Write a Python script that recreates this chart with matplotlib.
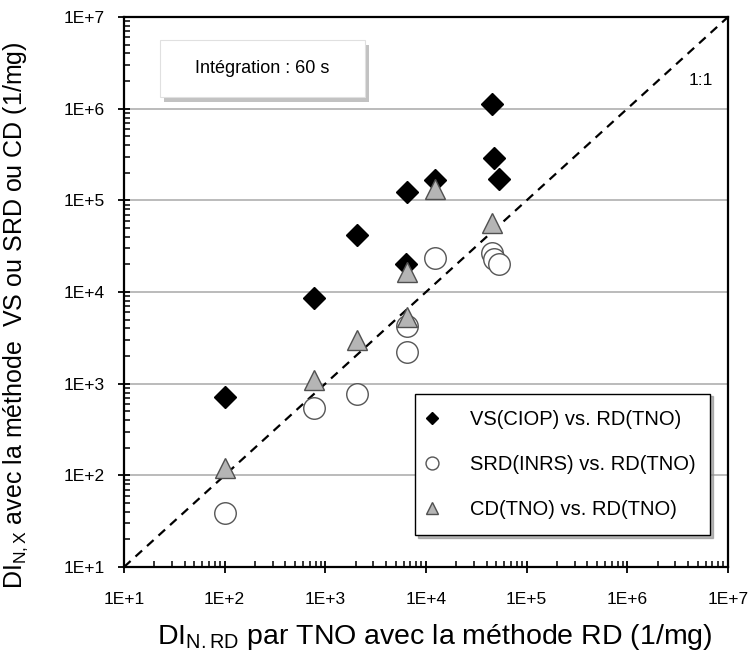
import matplotlib
matplotlib.use("Agg")
import matplotlib.pyplot as plt
from matplotlib.patches import Rectangle
import numpy as np

plt.rcParams['font.family'] = ['Liberation Sans', 'DejaVu Sans']
plt.rcParams['mathtext.fontset'] = 'custom'
plt.rcParams['mathtext.rm'] = 'Liberation Sans'
plt.rcParams['mathtext.it'] = 'Liberation Sans'

# Data (x = DI_N,RD by TNO, y = DI_N,X)
vs_x = [100, 770, 2060, 6460, 12200, 45000, 47200, 53000, 6300]
vs_y = [716, 8600, 41900, 123000, 167000, 1.12e6, 290000, 171000, 20200]

srd_x = [100, 770, 2060, 6460, 6460, 12200, 45000, 47200, 53000]
srd_y = [38.8, 543, 771, 2220, 4250, 23500, 26700, 22900, 20200]

cd_x = [100, 770, 2060, 6460, 6460, 12200, 45000]
cd_y = [120, 1100, 3000, 5330, 16500, 133000, 56600]

labels = ["VS(CIOP) vs. RD(TNO)", "SRD(INRS) vs. RD(TNO)", "CD(TNO) vs. RD(TNO)"]
tick_vals = [1e1, 1e2, 1e3, 1e4, 1e5, 1e6, 1e7]
tick_labels = ["1E+1", "1E+2", "1E+3", "1E+4", "1E+5", "1E+6", "1E+7"]

fig = plt.figure(figsize=(7.53, 6.54), dpi=100)
ax = fig.add_axes([124/753, 1-567/654, (728-124)/753, (567-17)/654])
ax.set_xscale('log')
ax.set_yscale('log')
ax.set_xlim(1e1, 1e7)
ax.set_ylim(1e1, 1e7)

for yv in tick_vals[1:-1]:
    ax.axhline(yv, color='#a8a8a8', lw=1.1, zorder=0)

ax.plot([1e1, 1e7], [1e1, 1e7], ls=(0, (4, 3)), color='black', lw=1.6, zorder=1)

ax.plot(vs_x, vs_y, ls='none', marker='D', ms=11, mfc='black', mec='black', zorder=3, label=labels[0])
ax.plot(srd_x, srd_y, ls='none', marker='o', ms=15.5, mfc='white', mec='#555555', mew=1.0, zorder=2, label=labels[1])
ax.plot(cd_x, cd_y, ls='none', marker='^', ms=15, mfc='#b5b5b5', mec='#505050', mew=1.0, zorder=4, label=labels[2])

ax.set_xticks(tick_vals)
ax.set_xticklabels(tick_labels)
ax.set_yticks(tick_vals)
ax.set_yticklabels(tick_labels)
ax.tick_params(which='major', direction='inout', length=8, width=1.3, labelsize=12.5)
ax.tick_params(axis='x', which='major', pad=14)
ax.tick_params(axis='y', which='major', pad=10)
ax.tick_params(which='minor', direction='in', length=4.5, width=1.1)
for s in ax.spines.values():
    s.set_linewidth(1.6)

ax.set_xlabel("DI$_\\mathregular{N.RD}$ par TNO avec la méthode RD (1/mg)", fontsize=20.5)
ax.set_ylabel("DI$_\\mathregular{N,X}$ avec la méthode  VS ou SRD ou CD (1/mg)", fontsize=18)
ax.xaxis.set_label_coords(0.515, -0.100)
ax.yaxis.set_label_coords(-0.155, 0.458)

ax.text(0.955, 0.885, "1:1", transform=ax.transAxes, fontsize=12.5, ha='center', va='center')

# Integration box with shadow
x0, y0, w, h = 0.0596, 0.855, 0.34, 0.103
ax.add_patch(Rectangle((x0 + 0.006, y0 - 0.009), w, h, transform=ax.transAxes,
                       facecolor='#9a9a9a', edgecolor='none', alpha=0.6, zorder=5))
ax.add_patch(Rectangle((x0, y0), w, h, transform=ax.transAxes,
                       facecolor='white', edgecolor='#e0e0e0', lw=0.8, zorder=6))
ax.text(x0 + w/2, y0 + h/2, "Intégration : 60 s", transform=ax.transAxes,
        fontsize=13, ha='center', va='center', zorder=7)

leg = ax.legend(loc='lower left', bbox_to_anchor=(0.482, 0.058, 0.488, 0.255), mode='expand',
                fontsize=14.5, labelspacing=1.3, handletextpad=1.8, borderpad=0.8,
                markerscale=0.6, frameon=True, fancybox=False, shadow={'color': '#888888', 'alpha': 0.6},
                edgecolor='black', framealpha=1, handlelength=0.1, borderaxespad=0)
leg.get_frame().set_linewidth(1.0)
leg.set_zorder(8)

fig.savefig("out.png", dpi=100)
